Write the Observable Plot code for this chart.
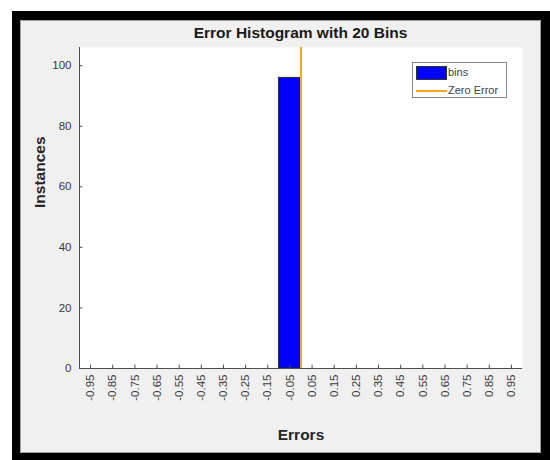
<!DOCTYPE html>
<html>
<head>
<meta charset="utf-8">
<script src="https://cdn.jsdelivr.net/npm/d3@7"></script>
<script src="https://cdn.jsdelivr.net/npm/@observablehq/plot@0.6"></script>
<style>
  html, body { margin: 0; padding: 0; background: #fff; }
  #page { position: relative; width: 550px; height: 460px; overflow: hidden; background: #fff;
          font-family: "Liberation Sans", Arial, sans-serif; }
  #frame { position: absolute; left: 12px; top: 11px; width: 538px; height: 449px; box-sizing: border-box;
           border-style: solid; border-color: #000; border-width: 9px 9px 7px 8px; background: #f0f0f0;
           box-shadow: inset 0 0 0 1px #a0a0a0; }
  #chart { position: absolute; left: 0; top: 0; }
  #chart svg { background: transparent !important; overflow: visible; }
  #title { position: absolute; left: 79px; width: 443px; top: 25px; text-align: center;
           font-weight: bold; font-size: 15.5px; color: #1a1a1a; line-height: 16px; }
  #legend { position: absolute; left: 412px; top: 62px; width: 95px; height: 36px; box-sizing: border-box;
            background: #fff; border: 1px solid #8a8a8a; font-size: 11px; color: #444; }
  #legend .sw-bar { position: absolute; left: 3px; top: 3px; width: 31px; height: 14px; box-sizing: border-box;
                    background: #0000ff; border: 1px solid #333; }
  #legend .sw-line { position: absolute; left: 3px; top: 27px; width: 31px; height: 2px; background: #ffa31a; }
  #legend .lab { position: absolute; left: 35px; line-height: 11px; }
</style>
</head>
<body>
<div id="page">
  <div id="frame"></div>
  <div id="chart"></div>
  <div id="title">Error Histogram with 20 Bins</div>
  <div id="legend">
    <div class="sw-bar"></div><div class="lab" style="top:4px">bins</div>
    <div class="sw-line"></div><div class="lab" style="top:22px">Zero Error</div>
  </div>
</div>
<script>
// Bin centres of the error histogram (20 bins over [-1, 1])
const binCenters = [-0.95, -0.85, -0.75, -0.65, -0.55, -0.45, -0.35, -0.25, -0.15, -0.05,
                     0.05,  0.15,  0.25,  0.35,  0.45,  0.55,  0.65,  0.75,  0.85,  0.95];
// Tick labels shown under each bin
const tickLabels = ["-0.95", "-0.85", "-0.75", "-0.65", "-0.55", "-0.45", "-0.35", "-0.25", "-0.15", "-0.05",
                    "0.05", "0.15", "0.25", "0.35", "0.45", "0.55", "0.65", "0.75", "0.85", "0.95"];
// Number of instances in each bin
const counts = [0, 0, 0, 0, 0, 0, 0, 0, 0, 96,
                0, 0, 0, 0, 0, 0, 0, 0, 0, 0];
const binWidth = 0.1;
const zeroError = [0];
const yTicks = [0, 20, 40, 60, 80, 100];

const bins = binCenters.map((c, i) => ({x1: c - binWidth / 2, x2: c + binWidth / 2, count: counts[i]}))
  .filter(d => d.count > 0);

const axisColor = "#4d4d4d";
const labelFont = {fontWeight: "bold", fontSize: 15.5, fill: "#262626"};

const chart = Plot.plot({
  width: 550,
  height: 460,
  marginLeft: 79,
  marginRight: 28,
  marginTop: 47,
  marginBottom: 92,
  style: {fontFamily: "'Liberation Sans', Arial, sans-serif", fontSize: "11.5px", color: "#3a3a3a", background: "transparent"},
  x: {domain: [-1, 1]},
  y: {domain: [0, 106]},
  marks: [
    Plot.frame({fill: "#fff", stroke: null}),
    Plot.rect(bins, {x1: "x1", x2: "x2", y1: 0, y2: "count", fill: "#0000ff", stroke: "#222", strokeWidth: 0.8}),
    Plot.ruleX(zeroError, {stroke: "#ffa31a", strokeWidth: 2}),
    Plot.ruleX([-1], {stroke: axisColor}),
    Plot.ruleY([0], {stroke: axisColor}),
    // short inward ticks on both axes
    Plot.ruleX(binCenters, {y1: 0, y2: 1.1, stroke: axisColor}),
    Plot.ruleY(yTicks, {x1: -1, x2: -0.985, stroke: axisColor}),
    Plot.axisX(binCenters, {
      tickFormat: (d, i) => tickLabels[i],
      tickSize: 0,
      tickPadding: 6,
      tickRotate: -90,
      label: null
    }),
    Plot.axisY(yTicks, {
      tickSize: 0,
      tickPadding: 8,
      label: null
    }),
    Plot.text(["Errors"], {frameAnchor: "bottom", dy: 71, ...labelFont}),
    Plot.text(["Instances"], {frameAnchor: "left", dx: -39, rotate: -90, ...labelFont})
  ]
});
document.getElementById("chart").append(chart);
</script>
</body>
</html>
